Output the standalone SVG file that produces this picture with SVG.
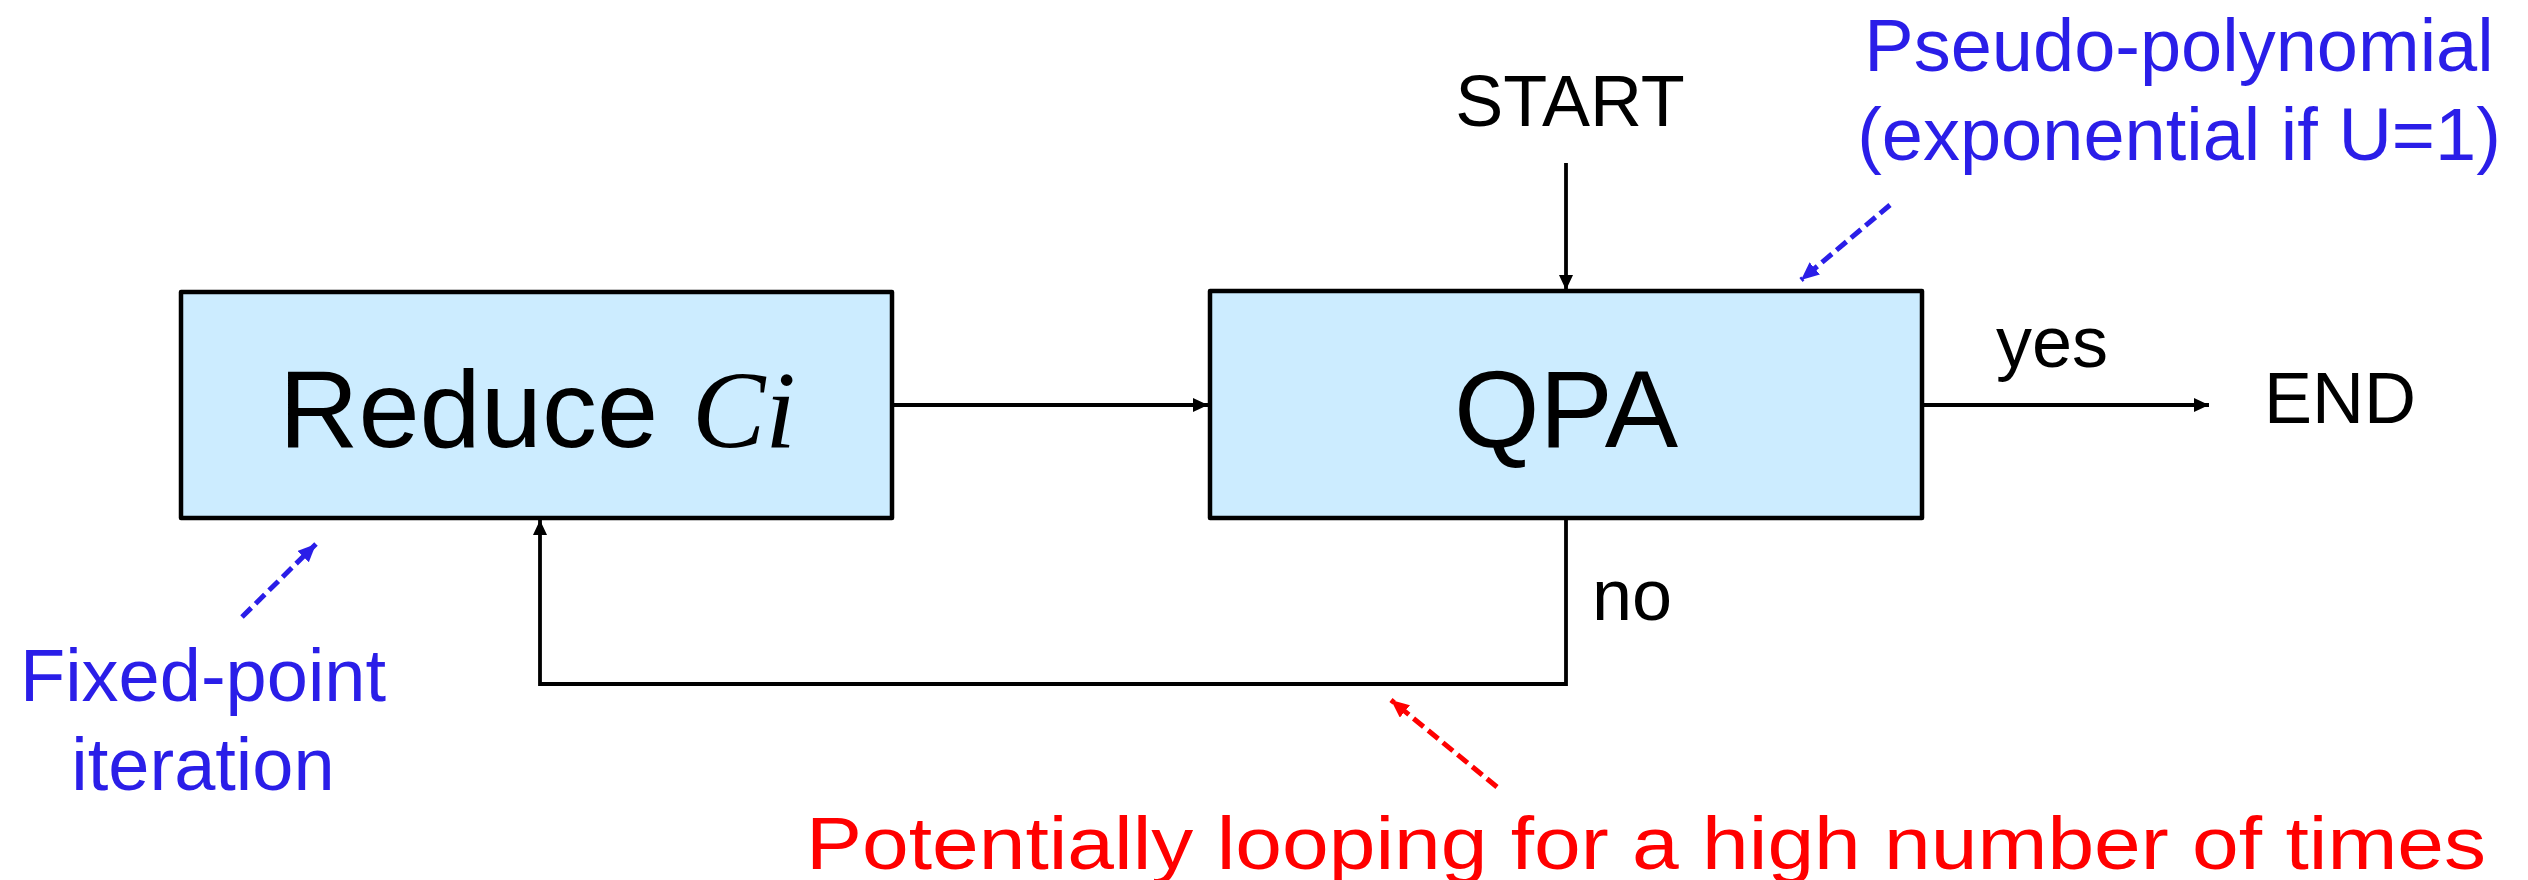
<svg xmlns="http://www.w3.org/2000/svg" width="2528" height="880" viewBox="0 0 2528 880">
  <style>
    .box { fill: #CCECFF; stroke: #000; stroke-width: 4.5; stroke-linejoin: round; }
    .big { font-family: "Liberation Sans", Arial, sans-serif; font-size: 110px; fill: #000; }
    .math { font-family: "Liberation Serif", "Times New Roman", serif; font-style: italic; font-size: 110px; fill: #000; }
    .lbl { font-family: "Liberation Sans", Arial, sans-serif; font-size: 72px; fill: #000; }
    .note { font-family: "Liberation Sans", Arial, sans-serif; font-size: 74px; }
    .blue { fill: #2A1EE8; }
    .red { fill: #FF0000; }
    .wire { fill: none; stroke: #000; stroke-width: 3.8; }
    .dash-blue { fill: none; stroke: #2A1EE8; stroke-width: 5; stroke-dasharray: 13 6; }
    .dash-red { fill: none; stroke: #FF0000; stroke-width: 5; stroke-dasharray: 13 6; }
  </style>
  <defs>
    <marker id="arrow" markerUnits="userSpaceOnUse" markerWidth="16" markerHeight="16" refX="15" refY="7" orient="auto">
      <path d="M0,0 L15,7 L0,14 z" fill="#000"/>
    </marker>
    <marker id="arrow-blue" markerUnits="userSpaceOnUse" markerWidth="20" markerHeight="20" refX="18" refY="8" orient="auto">
      <path d="M0,0 L18,8 L0,16 z" fill="#2A1EE8"/>
    </marker>
    <marker id="arrow-red" markerUnits="userSpaceOnUse" markerWidth="20" markerHeight="20" refX="18" refY="8" orient="auto">
      <path d="M0,0 L18,8 L0,16 z" fill="#FF0000"/>
    </marker>
  </defs>

  <g id="connectors">
    <line class="wire" x1="1566" y1="163" x2="1566" y2="290" marker-end="url(#arrow)"/>
    <line class="wire" x1="892" y1="405" x2="1208" y2="405" marker-end="url(#arrow)"/>
    <line class="wire" x1="1922" y1="405" x2="2209" y2="405" marker-end="url(#arrow)"/>
    <polyline class="wire" points="1566,518 1566,684 540,684 540,520" marker-end="url(#arrow)"/>
    <text class="lbl" x="1996" y="367">yes</text>
    <text class="lbl" x="1592" y="620">no</text>
  </g>

  <g id="reduce">
    <rect class="box" x="181" y="292" width="711" height="226"/>
    <text class="big" x="279" y="447">Reduce</text>
    <text class="math" x="692" y="447">Ci</text>
  </g>

  <g id="qpa">
    <rect class="box" x="1210" y="291" width="712" height="227"/>
    <text class="big" x="1566" y="447" text-anchor="middle">QPA</text>
  </g>

  <g id="start">
    <text class="lbl" x="1570" y="126" text-anchor="middle">START</text>
  </g>

  <g id="end">
    <text class="lbl" x="2264" y="423">END</text>
  </g>

  <g id="note-complexity">
    <text class="note blue" x="2179" y="71" text-anchor="middle">Pseudo-polynomial</text>
    <text class="note blue" x="2179" y="160" text-anchor="middle">(exponential if U=1)</text>
    <line class="dash-blue" x1="1890" y1="205" x2="1801" y2="280" marker-end="url(#arrow-blue)"/>
  </g>

  <g id="note-fixed-point">
    <text class="note blue" x="203" y="701" text-anchor="middle">Fixed-point</text>
    <text class="note blue" x="203" y="790" text-anchor="middle">iteration</text>
    <line class="dash-blue" x1="242" y1="617" x2="316" y2="544" marker-end="url(#arrow-blue)"/>
  </g>

  <g id="note-looping">
    <text class="note red" x="806" y="869" textLength="1680" lengthAdjust="spacingAndGlyphs">Potentially looping for a high number of times</text>
    <line class="dash-red" x1="1497" y1="787" x2="1391" y2="700" marker-end="url(#arrow-red)"/>
  </g>
</svg>
